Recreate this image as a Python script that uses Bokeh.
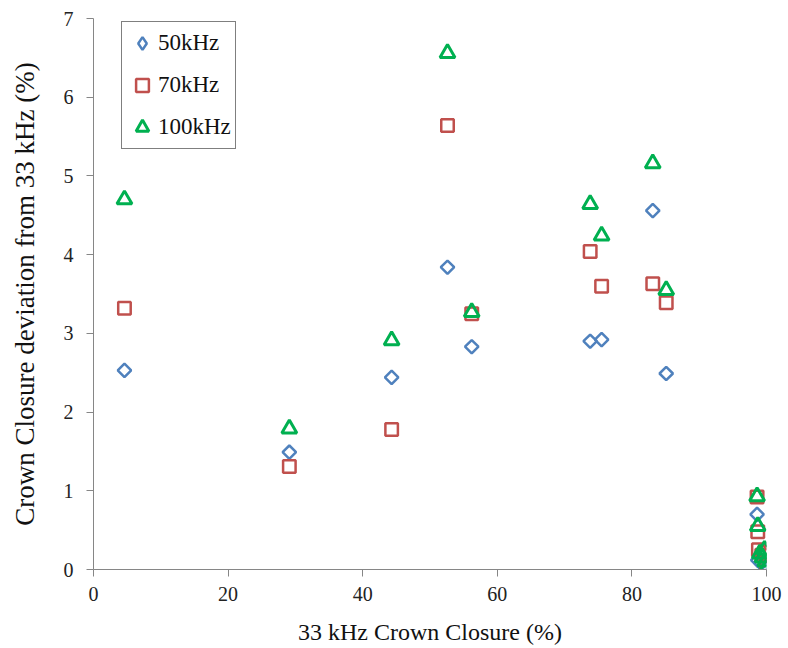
import math
from bokeh.plotting import figure
from bokeh.models import Range1d, Legend, LegendItem
from bokeh.embed import file_html
from bokeh.resources import INLINE

x50 = [4.6, 29.1, 44.3, 52.6, 56.2, 73.8, 75.5, 83.1, 85.1, 98.6, 98.7, 99.2, 99.6, 100.0]
y50 = [2.53, 1.49, 2.44, 3.84, 2.83, 2.90, 2.92, 4.56, 2.49, 0.70, 0.12, 0.08, 0.05, 0.02]

x70 = [4.6, 29.1, 44.3, 52.6, 56.2, 73.8, 75.5, 83.1, 85.1, 98.6, 98.7, 98.8, 99.3, 99.8, 100.0]
y70 = [3.32, 1.31, 1.78, 5.64, 3.25, 4.04, 3.60, 3.63, 3.39, 0.92, 0.48, 0.25, 0.18, 0.22, 0.05]

x100 = [4.6, 29.1, 44.3, 52.6, 56.2, 73.8, 75.5, 83.1, 85.1, 98.6, 98.7, 99.0, 99.4, 99.7, 99.8, 100.0]
y100 = [4.70, 1.79, 2.91, 6.56, 3.27, 4.64, 4.24, 5.16, 3.55, 0.93, 0.55, 0.20, 0.15, 0.25, 0.10, 0.02]

labels = ["50kHz", "70kHz", "100kHz"]
x_ticks = [0, 20, 40, 60, 80, 100]
y_ticks = [0, 1, 2, 3, 4, 5, 6, 7]

FONT = "Liberation Serif"
BLUE, RED, GREEN = "#4F81BD", "#C0504D", "#00B050"

p = figure(width=788, height=648, output_backend="svg", toolbar_location=None,
           x_range=Range1d(0, 100), y_range=Range1d(0, 7),
           min_border_left=93, min_border_right=22, min_border_top=18, min_border_bottom=79)
p.outline_line_color = None
p.grid.visible = False
p.background_fill_color = "white"
p.border_fill_color = "white"

r1 = p.scatter(x50, y50, marker="square", angle=math.pi / 4, size=9.5, fill_color=None,
               line_color=BLUE, line_width=2.5)
r2 = p.scatter(x70, y70, marker="square", size=12.5, fill_color=None,
               line_color=RED, line_width=2.5)
r3 = p.scatter(x100, y100, marker="triangle", size=15, fill_color=None,
               line_color=GREEN, line_width=3)

# hidden twin of the 50kHz series, used only for its legend symbol
# (legend glyphs are drawn unrotated, so a true diamond marker is used there)
r1_leg = p.scatter(x50, y50, marker="diamond", fill_color=None,
                   line_color=BLUE, line_width=2.5, visible=False)

for ax in (p.xaxis[0], p.yaxis[0]):
    ax.axis_line_color = "#868686"
    ax.major_tick_line_color = "#868686"
    ax.major_tick_out = 7
    ax.major_tick_in = 0
    ax.minor_tick_line_color = None
    ax.major_label_text_font = FONT
    ax.major_label_text_font_size = "20px"
    ax.major_label_text_color = "#222222"
    ax.axis_label_text_font = FONT
    ax.axis_label_text_font_style = "normal"
    ax.axis_label_text_color = "#111111"

p.xaxis.axis_label_text_font_size = "24px"
p.yaxis.axis_label_text_font_size = "27px"
p.xaxis.ticker = x_ticks
p.yaxis.ticker = y_ticks
p.xaxis.axis_label = "33 kHz Crown Closure (%)"
p.yaxis.axis_label = "Crown Closure deviation from 33 kHz (%)"
p.xaxis.major_label_standoff = 10
p.yaxis.major_label_standoff = 13
p.xaxis.axis_label_standoff = 15
p.yaxis.axis_label_standoff = 21

legend = Legend(items=[LegendItem(label=labels[0], renderers=[r1_leg]),
                       LegendItem(label=labels[1], renderers=[r2]),
                       LegendItem(label=labels[2], renderers=[r3])],
                location=(28, 420))
legend.border_line_color = "black"
legend.border_line_width = 1
legend.label_text_font = FONT
legend.label_text_font_size = "23px"
legend.label_text_color = "#111111"
legend.spacing = 8
legend.padding = 4
legend.margin = 0
legend.glyph_width = 32
legend.glyph_height = 34
legend.label_height = 34
legend.label_standoff = 0
legend.background_fill_alpha = 1
legend.click_policy = "none"
p.add_layout(legend, "center")

open("out.html", "w").write(file_html(p, INLINE))
